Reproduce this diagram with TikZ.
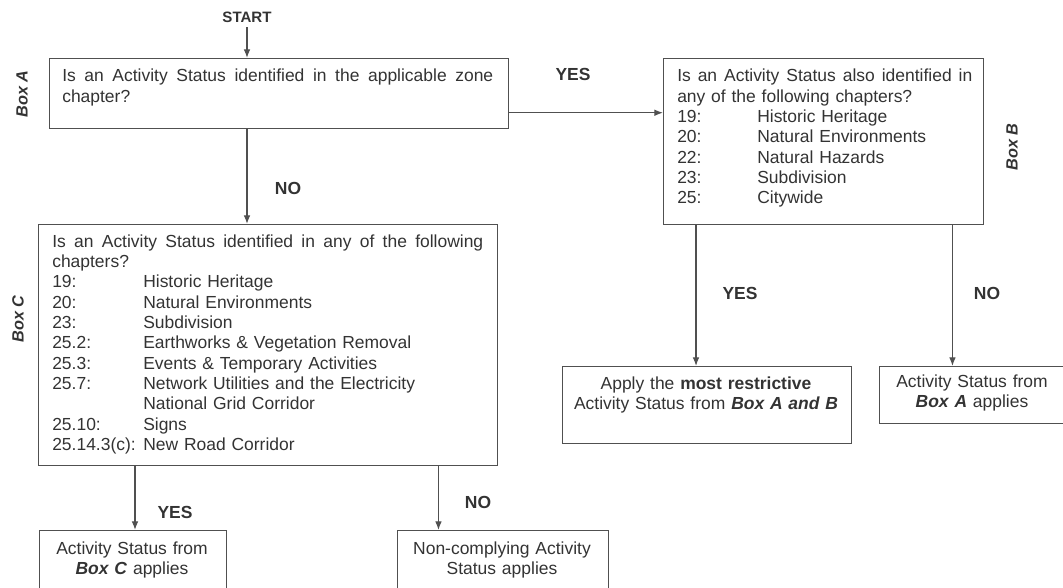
\documentclass[tikz,border=0pt]{standalone}
\usepackage{fontspec}
\setmainfont{Liberation Sans}
\usetikzlibrary{arrows.meta}
\definecolor{flowink}{HTML}{333333}
\definecolor{flowline}{HTML}{505050}
\newlength{\pxu}
\setlength{\pxu}{0.75pt}
\newcommand{\chapB}[2]{\makebox[80\pxu][l]{#1}#2}
\newcommand{\chapC}[2]{\makebox[91\pxu][l]{#1}#2}
\newcommand{\spreadline}[2]{\hbox to #1{\spaceskip=0.278em plus 1fil\relax #2}}

\begin{document}
\begin{tikzpicture}[
  x=0.75pt,
  y=-0.75pt,
  every node/.style={font=\fontsize{13.1}{15.25}\selectfont, text=flowink},
  box/.style={draw=flowline, line width=1.1pt, anchor=north west, inner sep=0pt},
  boxtext/.style={anchor=base west, inner sep=0pt, align=left},
  outtext/.style={anchor=base, inner sep=0pt, align=center},
  answer/.style={font=\fontsize{13.1}{15.25}\selectfont\bfseries},
  boxtag/.style={rotate=90, font=\fontsize{12.2}{14}\selectfont\bfseries\itshape},
  flow/.style={flowline, line width=0.9pt, -{Latex[length=6.5pt,width=5pt]}}
]
  \useasboundingbox (0,0) rectangle (1063,588);

  % ---- the boxes ----
  \node[box, minimum width=459\pxu, minimum height=70\pxu]  (boxA)    at (49,58)   {};
  \node[box, minimum width=320\pxu, minimum height=166\pxu] (boxB)    at (663,58)  {};
  \node[box, minimum width=459\pxu, minimum height=241\pxu] (boxC)    at (38,224)  {};
  \node[box, minimum width=289\pxu, minimum height=77\pxu]  (apply)   at (562,366) {};
  \node[box, minimum width=187\pxu, minimum height=57\pxu]  (fromA)   at (879,366) {};
  \node[box, minimum width=187\pxu, minimum height=80\pxu]  (fromC)   at (39,530)  {};
  \node[box, minimum width=211\pxu, minimum height=80\pxu]  (noncomp) at (397,530) {};

  % ---- box texts ----
  \node[boxtext, text width=431\pxu] (boxAtext) at (62,82)
    {\spreadline{431\pxu}{Is an Activity Status identified in the applicable zone}\\
     chapter?};
  \node[boxtext, text width=300\pxu] (boxBtext) at (677,82)
    {\spreadline{295\pxu}{Is an Activity Status also identified in}\\
     any of the following chapters?\\
     \chapB{19:}{Historic Heritage}\\
     \chapB{20:}{Natural Environments}\\
     \chapB{22:}{Natural Hazards}\\
     \chapB{23:}{Subdivision}\\
     \chapB{25:}{Citywide}};
  \node[boxtext, text width=435\pxu] (boxCtext) at (52,247)
    {\spreadline{431\pxu}{Is an Activity Status identified in any of the following}\\
     chapters?\\
     \chapC{19:}{Historic Heritage}\\
     \chapC{20:}{Natural Environments}\\
     \chapC{23:}{Subdivision}\\
     \chapC{25.2:}{Earthworks \& Vegetation Removal}\\
     \chapC{25.3:}{Events \& Temporary Activities}\\
     \chapC{25.7:}{Network Utilities and the Electricity}\\
     \chapC{}{National Grid Corridor}\\
     \chapC{25.10:}{Signs}\\
     \chapC{25.14.3(c):}{New Road Corridor}};

  % ---- outcome texts ----
  \node[outtext, text width=280\pxu] (applytext) at (706,389)
    {Apply the \textbf{most restrictive}\\
     Activity Status from \textbf{\textit{Box A and B}}};
  \node[outtext, text width=180\pxu] (fromAtext) at (972,387)
    {Activity Status from\\ \textbf{\textit{Box A}} applies};
  \node[outtext, text width=180\pxu] (fromCtext) at (132,554)
    {Activity Status from\\ \textbf{\textit{Box C}} applies};
  \node[outtext, text width=200\pxu] (noncomptext) at (502,554)
    {Non-complying Activity\\ Status applies};

  % ---- box tags ----
  \node[boxtag] (tagA) at (22,94)   {Box A};
  \node[boxtag] (tagB) at (1012,147) {Box B};
  \node[boxtag] (tagC) at (18,319)  {Box C};

  % ---- start and answers ----
  \node[anchor=base, inner sep=3pt, font=\fontsize{11.3}{13}\selectfont\bfseries] (start) at (247,23) {START};
  \node[answer] (yesA) at (573,74)  {YES};
  \node[answer] (noA)  at (288,188) {NO};
  \node[answer] (yesB) at (740,293) {YES};
  \node[answer] (noB)  at (987,293) {NO};
  \node[answer] (yesC) at (175,512) {YES};
  \node[answer] (noC)  at (478,502) {NO};

  % ---- connectors ----
  \draw[flow] (start) -- (start |- boxA.north);
  \draw[flow] (start |- boxA.south) -- (start |- boxC.north);
  \draw[flow] ([yshift=-14.25pt]boxA.east) -- ([yshift=-14.25pt]boxA.east -| boxB.west);
  \draw[flow] ([xshift=24.75pt]boxB.south west) coordinate (bYes) -- (bYes |- apply.north);
  \draw[flow] ([xshift=-24pt]boxB.south east) coordinate (bNo) -- (bNo |- fromA.north);
  \draw[flow] ([xshift=72.75pt]boxC.south west) coordinate (cYes) -- (cYes |- fromC.north);
  \draw[flow] ([xshift=-45pt]boxC.south east) coordinate (cNo) -- (cNo |- noncomp.north);
\end{tikzpicture}
\end{document}
